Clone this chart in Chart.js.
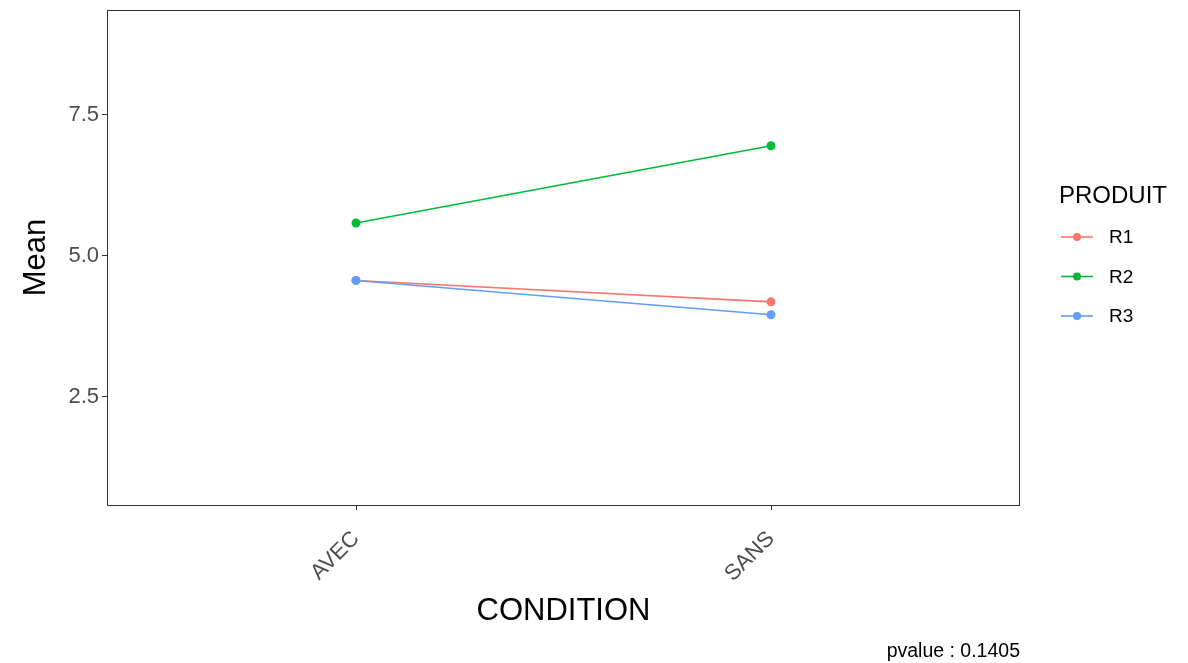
<!DOCTYPE html>
<html>
<head>
<meta charset="utf-8">
<script src="https://cdn.jsdelivr.net/npm/chart.js@4"></script>
<style>
  html, body { margin: 0; padding: 0; background: #fff; }
  #wrap { width: 1188px; height: 663px; }
</style>
</head>
<body>
<div id="wrap"><canvas id="meanChart" width="1188" height="663"></canvas></div>
<script>
// --- data ---
const conditions = ['AVEC', 'SANS'];
const produits = ['R1', 'R2', 'R3'];
const r1Means = [4.56, 4.18];
const r2Means = [5.58, 6.95];
const r3Means = [4.56, 3.95];
const yTicks = [2.5, 5.0, 7.5];
const pvalueText = 'pvalue : 0.1405';

const colors = ['#F8766D', '#00BA38', '#619CFF'];
const FONT = '"Liberation Sans", Arial, sans-serif';

function toPoints(values) {
    return values.map((v, i) => ({ x: i, y: v }));
}

const seriesValues = [r1Means, r2Means, r3Means];

const datasets = produits.map((name, i) => ({
    label: name,
    data: toPoints(seriesValues[i]),
    borderColor: colors[i],
    backgroundColor: colors[i],
    borderWidth: 1.6,
    pointRadius: 4.5,
    pointHoverRadius: 4.5,
    pointBorderWidth: 0,
    tension: 0,
    order: produits.length - i // last series on top, like ggplot
}));

// panel border, axis titles, legend and the p-value note
const decorations = {
    id: 'decorations',
    afterDraw(chart) {
        const { ctx, chartArea } = chart;
        ctx.save();

        // panel border
        ctx.strokeStyle = '#333333';
        ctx.lineWidth = 1;
        ctx.strokeRect(chartArea.left + 0.5, chartArea.top + 0.5,
            chartArea.right - chartArea.left - 1, chartArea.bottom - chartArea.top);

        // axis titles
        ctx.fillStyle = '#000';
        ctx.font = '31px ' + FONT;
        ctx.textAlign = 'center';
        ctx.textBaseline = 'middle';
        ctx.fillText('CONDITION', (chartArea.left + chartArea.right) / 2, 611);

        ctx.save();
        ctx.translate(36, (chartArea.top + chartArea.bottom) / 2);
        ctx.rotate(-Math.PI / 2);
        ctx.fillText('Mean', 0, 0);
        ctx.restore();

        // legend
        ctx.textAlign = 'left';
        ctx.font = '24px ' + FONT;
        ctx.fillText('PRODUIT', 1059, 196);
        ctx.font = '19px ' + FONT;
        chart.data.datasets.forEach((ds, i) => {
            const y = 237 + i * 39.5;
            ctx.strokeStyle = ds.borderColor;
            ctx.lineWidth = 1.6;
            ctx.beginPath();
            ctx.moveTo(1061, y);
            ctx.lineTo(1093, y);
            ctx.stroke();
            ctx.fillStyle = ds.borderColor;
            ctx.beginPath();
            ctx.arc(1077, y, 4, 0, Math.PI * 2);
            ctx.fill();
            ctx.fillStyle = '#000';
            ctx.fillText(ds.label, 1109, y + 1);
        });

        // p-value caption
        ctx.font = '19.5px ' + FONT;
        ctx.textAlign = 'right';
        ctx.fillText(pvalueText, chartArea.right, 652);

        ctx.restore();
    }
};

const ctx = document.getElementById('meanChart').getContext('2d');
const meanChart = new Chart(ctx, {
    type: 'line',
    data: { datasets: datasets },
    options: {
        responsive: false,
        animation: false,
        devicePixelRatio: 1,
        layout: { padding: { top: 10, right: 168, bottom: 0, left: 0 } },
        plugins: {
            legend: { display: false },
            tooltip: { enabled: false }
        },
        scales: {
            x: {
                type: 'linear',
                min: -0.6,
                max: 1.6,
                afterBuildTicks: scale => {
                    scale.ticks = conditions.map((c, i) => ({ value: i }));
                },
                afterFit: scale => {
                    scale.height = 158;
                    scale.paddingLeft = 0;
                    scale.paddingRight = 0;
                },
                ticks: {
                    callback: value => conditions[value],
                    color: '#4d4d4d',
                    font: { family: FONT, size: 22 },
                    minRotation: 45,
                    maxRotation: 45,
                    padding: 16
                },
                grid: {
                    drawOnChartArea: false,
                    drawTicks: true,
                    tickLength: 5,
                    tickColor: '#333333'
                },
                border: { display: false }
            },
            y: {
                type: 'linear',
                min: 0.574,
                max: 9.36,
                afterBuildTicks: scale => {
                    scale.ticks = yTicks.map(v => ({ value: v }));
                },
                afterFit: scale => {
                    scale.width = 107;
                    scale.paddingTop = 0;
                    scale.paddingBottom = 0;
                },
                ticks: {
                    callback: value => value.toFixed(1),
                    color: '#4d4d4d',
                    font: { family: FONT, size: 22 },
                    padding: 3
                },
                grid: {
                    drawOnChartArea: false,
                    drawTicks: true,
                    tickLength: 5,
                    tickColor: '#333333'
                },
                border: { display: false }
            }
        }
    },
    plugins: [decorations]
});
</script>
</body>
</html>
